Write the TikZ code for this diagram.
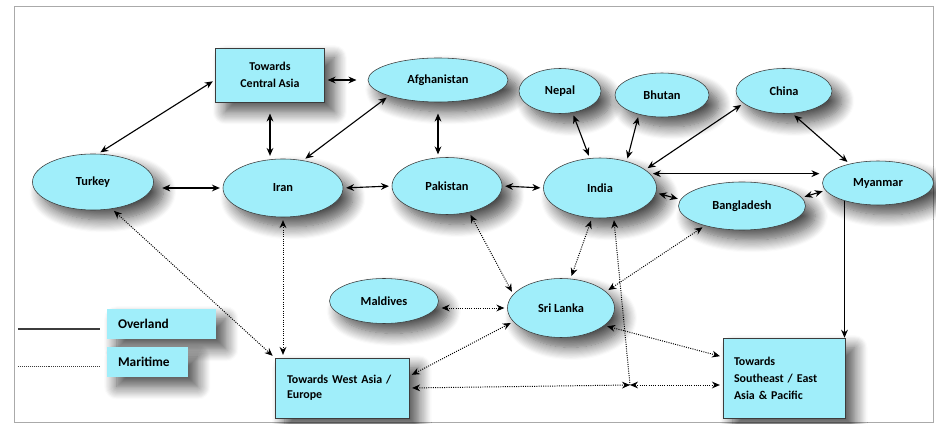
\documentclass[tikz,border=0pt]{standalone}
\usepackage{fontspec}
\setmainfont{Carlito}
\usepackage{xcolor}
\usetikzlibrary{arrows.meta, calc, shapes.geometric, shadows.blur}

\definecolor{nodeCyan}{RGB}{160,238,250}
\definecolor{edgeGray}{RGB}{60,60,60}
\definecolor{frameGray}{RGB}{170,170,170}

\tikzset{
  softshadow/.style={blur shadow={shadow xshift=7pt, shadow yshift=-7pt, shadow blur radius=9pt, shadow blur steps=12, shadow opacity=70}},
  country/.style={ellipse, draw=edgeGray, fill=nodeCyan, inner sep=0pt, font=\bfseries\fontsize{8.8}{10}\selectfont, softshadow},
  region/.style={rectangle, draw=edgeGray, fill=nodeCyan, font=\bfseries\fontsize{8.5}{10}\selectfont, softshadow},
  keybox/.style={rectangle, fill=nodeCyan, anchor=center, inner xsep=0.275cm, align=left, minimum height=0.75cm,
    font=\bfseries\fontsize{9.5}{11}\selectfont, softshadow},
  land/.style={<->, line width=0.8pt, shorten >=2pt, shorten <=2pt},
  sea/.style={<->, line width=0.7pt, dash pattern=on 0.7pt off 0.9pt, shorten >=2pt, shorten <=2pt}
}

\begin{document}
\begin{tikzpicture}[>={Stealth[length=2mm, width=1.7mm]}]
  \useasboundingbox (0,0) rectangle (23.4,-10.6);
  \draw[frameGray, line width=0.6pt] (0.35,-0.15) rectangle (23.325,-10.55);

  % top row
  \node[region, align=center, minimum width=2.725cm, minimum height=1.35cm] (centralAsia) at (6.75,-1.875) {Towards\\[2pt]Central Asia};
  \node[country, minimum width=3.5cm, minimum height=1.1cm] (afghanistan) at (10.95,-2.0) {Afghanistan};
  \node[country, minimum width=2.05cm, minimum height=1.125cm] (nepal) at (14.0,-2.275) {Nepal};
  \node[country, minimum width=2.35cm, minimum height=1.1cm] (bhutan) at (16.55,-2.375) {Bhutan};
  \node[country, minimum width=2.4cm, minimum height=1.125cm] (china) at (19.6,-2.275) {China};

  % middle row
  \node[country, minimum width=3.025cm, minimum height=1.4cm] (turkey) at (2.325,-4.55) {Turkey};
  \node[country, minimum width=3.0cm, minimum height=1.45cm] (iran) at (7.075,-4.7) {Iran};
  \node[country, minimum width=2.75cm, minimum height=1.425cm] (pakistan) at (11.175,-4.65) {Pakistan};
  \node[country, minimum width=2.825cm, minimum height=1.5cm] (india) at (15.0,-4.7) {India};
  \node[country, minimum width=3.175cm, minimum height=1.2cm] (bangladesh) at (18.55,-5.15) {Bangladesh};
  \node[country, minimum width=2.775cm, minimum height=1.1cm] (myanmar) at (21.95,-4.575) {Myanmar};

  % lower row
  \node[country, minimum width=2.725cm, minimum height=1.125cm] (maldives) at (9.6,-7.525) {Maldives};
  \node[country, minimum width=2.675cm, minimum height=1.475cm] (sriLanka) at (14.025,-7.7) {Sri Lanka};
  \node[region, align=left, inner xsep=0.3cm, text width=2.75cm, minimum height=1.5cm] (westAsia) at (8.55,-9.7) {Towards West Asia /\\[1pt]Europe};
  \node[region, align=left, inner xsep=0.275cm, text width=2.5cm, minimum height=2.0cm] (seAsia) at (19.6,-9.45) {Towards\\[2pt]Southeast / East\\[2pt]Asia \& Pacific};
  \coordinate (junction) at (15.75,-9.625);

  % legend
  \node[keybox, text width=2.175cm] (overlandKey) at (4.0375,-8.1) {Overland};
  \node[keybox, text width=1.475cm] (maritimeKey) at (3.6875,-9.05) {Maritime};
  \coordinate (overlandStart) at (0.45,-8.225);
  \coordinate (maritimeStart) at (0.45,-9.15);
  \draw[edgeGray, line width=1pt] (overlandStart) -- ($(overlandStart -| overlandKey.west)+(-0.175,0)$);
  \draw[edgeGray, line width=0.6pt, dash pattern=on 0.7pt off 0.7pt] (maritimeStart) -- ($(maritimeStart -| maritimeKey.west)+(-0.175,0)$);

  % overland links
  \draw[land] (turkey.80) -- (centralAsia.185);
  \draw[land, shorten >=8pt] (centralAsia.east |- afghanistan.west) -- (afghanistan.west);
  \draw[land, shorten <=8pt] (centralAsia.south) -- (centralAsia.south |- iran.north);
  \draw[land] (iran.54) -- (afghanistan.198);
  \draw[land, shorten <=8pt] (afghanistan.south) -- (afghanistan.south |- pakistan.north);
  \draw[land, shorten <=6pt] (iran.west -| turkey.east) -- (iran.west);
  \draw[land] (iran.east) -- (pakistan.west);
  \draw[land] (pakistan.east) -- (india.west);
  \draw[land] (nepal.300) -- (india.109);
  \draw[land] (bhutan.220) -- (india.45);
  \draw[land] (india.22) -- (china.197);
  \draw[land] (china.290) -- (myanmar.146);
  \draw[land] (india.16) -- (india.16 -| myanmar.west);
  \draw[land] (india.-5) -- (bangladesh.174);
  \draw[land] (bangladesh.8) -- (myanmar.188);
  \draw[->, line width=0.8pt] (myanmar.208) -- (myanmar.208 |- seAsia.north);

  % maritime links
  \draw[sea] (turkey.305) -- (westAsia.north west);
  \draw[sea] (iran.south) -- (iran.south |- westAsia.north);
  \draw[sea] (pakistan.310) -- (sriLanka.164);
  \draw[sea] (india.255) -- (sriLanka.72);
  \draw[sea] (bangladesh.208) -- (sriLanka.20);
  \draw[sea] (sriLanka.west -| maldives.east) -- (sriLanka.west);
  \draw[sea] (westAsia.10) -- (sriLanka.196);
  \draw[sea] (seAsia.161) -- (sriLanka.-22);
  \draw[sea, shorten >=0pt] (westAsia.east) -- (junction);
  \draw[sea, shorten <=0pt] (junction) -- (junction -| seAsia.west);
  \draw[sea, <-, shorten >=0pt] (india.295) -- (junction);
\end{tikzpicture}
\end{document}
